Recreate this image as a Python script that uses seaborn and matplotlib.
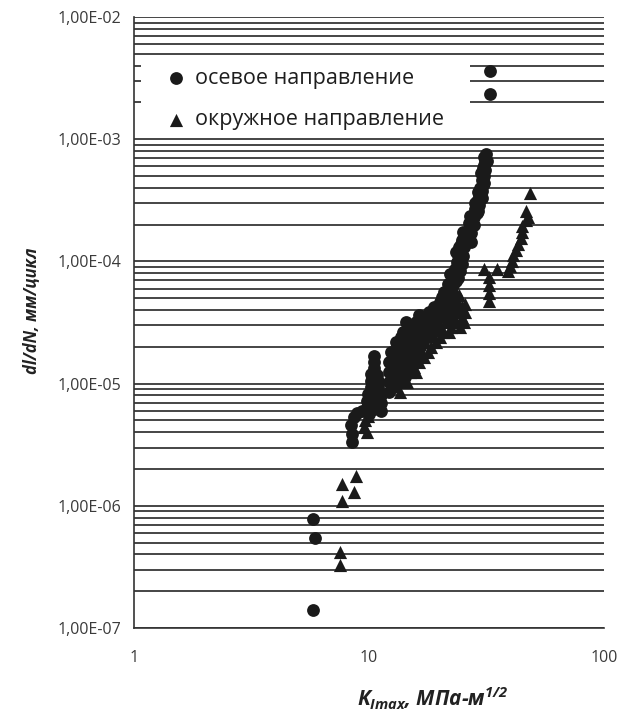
import matplotlib
matplotlib.use("Agg")
import matplotlib.pyplot as plt
import seaborn as sns
import numpy as np
import pandas as pd
from matplotlib.patches import Rectangle
from matplotlib.ticker import LogLocator, NullFormatter

# ---------------- data ----------------
axial_label = "осевое направление"
circ_label = "окружное направление"

# axial direction (circles): K_Imax [MPa*m^0.5], dl/dN [mm/cycle]
axial_k = [
    5.8, 5.9, 5.8,
    8.5, 8.5, 8.4, 8.6, 8.9, 9.3,
    # narrow column near K = 10
    10.0, 9.8, 10.5, 11.2, 9.8, 10.5, 11.2, 9.9, 10.6, 11.2,
    10.2, 10.9, 10.2, 10.9, 10.2, 10.8, 10.5, 10.5, 10.5,
    # merged lower mass
    12.2, 12.2, 13.5, 12.2, 13.5, 12.2, 13.5, 14.9,
    12.4, 13.7, 15.1, 13.0, 14.3, 15.8, 14.0, 15.4, 17.0, 18.7,
    14.4, 15.9, 17.5, 19.3, 16.3, 18.0, 19.8, 20.0, 22.0,
    12.8, 12.8, 14.2, 12.8, 14.2, 12.8, 14.2, 15.7,
    13.4, 14.9, 16.5, 13.7, 15.1, 16.6, 18.2,
    15.2, 16.7, 18.4, 17.1, 18.9, 20.8, 19.0, 21.0, 20.4, 22.2, 23.4,
    # main band
    20.9, 22.5, 21.6, 22.8,
    22.9, 24.0, 23.2, 24.4,
    23.8, 24.9, 24.0, 25.2, 24.2, 25.3,
    25.0, 26.2, 27.3, 25.2, 26.3, 27.3,
    26.6, 27.9, 26.8, 28.0,
    28.2, 29.2, 28.4, 29.4,
    29.5, 30.2, 29.8, 30.4,
    30.3, 31.0, 30.8, 30.5, 31.3,
    31.3, 31.8, 31.6,
    22.3, 23.5, 22.2, 23.6, 24.6, 23.4, 24.6, 25.7, 27.0, 27.4, 28.8,
    28.9, 29.1, 30.6, 29.9, 31.0, 30.8,
    # two isolated high points
    32.8, 32.6]
axial_rate = [
    1.4e-7, 5.5e-7, 7.8e-7,
    3.3e-6, 3.9e-6, 4.6e-6, 5.3e-6, 5.7e-6, 6.0e-6,
    5.6e-6, 6.3e-6, 6.2e-6, 6.0e-6, 7.2e-6, 7.2e-6, 7.0e-6, 8.2e-6, 8.2e-6, 8.0e-6,
    9.3e-6, 9.3e-6, 1.05e-5, 1.05e-5, 1.2e-5, 1.18e-5, 1.33e-5, 1.5e-5, 1.68e-5,
    8.5e-6, 1.03e-5, 1.03e-5, 1.24e-5, 1.24e-5, 1.5e-5, 1.5e-5, 1.5e-5,
    1.82e-5, 1.82e-5, 1.82e-5, 2.2e-5, 2.2e-5, 2.2e-5, 2.65e-5, 2.65e-5, 2.65e-5, 2.65e-5,
    3.2e-5, 3.2e-5, 3.2e-5, 3.2e-5, 3.66e-5, 3.87e-5, 3.87e-5, 4.69e-5, 4.69e-5,
    9.35e-6, 1.13e-5, 1.13e-5, 1.37e-5, 1.37e-5, 1.65e-5, 1.65e-5, 1.65e-5,
    2.0e-5, 2.0e-5, 2.0e-5, 2.42e-5, 2.42e-5, 2.42e-5, 2.42e-5,
    2.92e-5, 2.92e-5, 2.92e-5, 3.53e-5, 3.53e-5, 3.53e-5, 4.26e-5, 4.26e-5, 5.15e-5, 5.15e-5, 5.15e-5,
    5.66e-5, 5.6e-5, 6.5e-5, 6.4e-5,
    7.5e-5, 7.3e-5, 8.6e-5, 8.4e-5,
    9.8e-5, 9.6e-5, 1.12e-4, 1.1e-4, 1.3e-4, 1.3e-4,
    1.5e-4, 1.5e-4, 1.45e-4, 1.75e-4, 1.75e-4, 1.7e-4,
    2.05e-4, 2.0e-4, 2.35e-4, 2.3e-4,
    2.7e-4, 2.6e-4, 3.0e-4, 2.9e-4,
    3.5e-4, 3.3e-4, 4.0e-4, 3.8e-4,
    4.6e-4, 4.4e-4, 5.0e-4, 5.8e-4, 5.6e-4,
    6.8e-4, 6.6e-4, 7.6e-4,
    6.0e-5, 6.9e-5, 7.9e-5, 9.0e-5, 1.05e-4, 1.2e-4, 1.4e-4, 1.62e-4, 1.87e-4, 2.15e-4, 2.5e-4,
    3.15e-4, 3.7e-4, 4.2e-4, 5.3e-4, 6.2e-4, 7.1e-4,
    3.6e-3, 2.35e-3]

# circumferential direction (triangles)
circ_k = [
    7.5, 7.5,
    7.7, 7.7, 8.6, 8.8,
    9.5, 9.8, 9.6, 9.9,
    13.5, 14.5, 14.9, 15.8, 16.4, 16.6, 17.9, 17.4, 19.3,
    20.6, 22.0, 21.3, 23.4, 25.4, 21.8, 23.9, 25.6, 24.0, 25.6, 24.1,
    15.6, 17.2, 18.3, 20.0, 20.2, 22.3, 24.3, 22.8, 24.8, 23.0, 25.0,
    31.0, 35.2, 32.3, 32.3, 32.3, 32.3,
    38.9, 40.0, 40.6, 41.2, 42.2, 42.9, 44.2, 44.8, 45.0, 46.4, 47.4, 46.8, 48.3]
circ_rate = [
    4.2e-7, 3.3e-7,
    1.1e-6, 1.5e-6, 1.3e-6, 1.75e-6,
    4.4e-6, 4.0e-6, 5.0e-6, 5.4e-6,
    8.5e-6, 1.03e-5, 1.24e-5, 1.24e-5, 1.5e-5, 1.82e-5, 1.82e-5, 2.2e-5, 2.2e-5,
    2.65e-5, 2.65e-5, 3.2e-5, 3.2e-5, 3.2e-5, 3.87e-5, 3.87e-5, 3.87e-5, 4.69e-5, 4.5e-5, 5.35e-5,
    1.37e-5, 1.65e-5, 2.0e-5, 2.42e-5, 2.92e-5, 2.92e-5, 2.92e-5, 3.53e-5, 3.53e-5, 4.26e-5, 4.26e-5,
    8.6e-5, 8.6e-5, 7.4e-5, 6.4e-5, 5.5e-5, 4.7e-5,
    8.3e-5, 9.2e-5, 1.0e-4, 1.12e-4, 1.25e-4, 1.38e-4, 1.55e-4, 1.75e-4, 1.95e-4, 2.2e-4, 2.3e-4, 2.6e-4, 3.6e-4]

y_ticks = [1e-7, 1e-6, 1e-5, 1e-4, 1e-3, 1e-2]
y_tick_labels = ["1,00E-07", "1,00E-06", "1,00E-05", "1,00E-04", "1,00E-03", "1,00E-02"]
x_ticks = [1, 10, 100]
x_tick_labels = ["1", "10", "100"]

# ---------------- style ----------------
sns.set_theme(style="white")
plt.rcParams["font.family"] = ["Open Sans", "DejaVu Sans"]
plt.rcParams["mathtext.fontset"] = "custom"
plt.rcParams["mathtext.rm"] = "Open Sans:bold:italic"
plt.rcParams["mathtext.it"] = "Open Sans:bold:italic"
plt.rcParams["mathtext.bf"] = "Open Sans:bold:italic"

ink = "#1a1a1a"
fig = plt.figure(figsize=(6.29, 7.17), dpi=100)
ax = fig.add_axes([0.2130, 0.1241, 0.7472, 0.8522])

df_a = pd.DataFrame({"K": axial_k, "rate": axial_rate})
df_c = pd.DataFrame({"K": circ_k, "rate": circ_rate})

sns.scatterplot(data=df_a, x="K", y="rate", marker="o", s=85, color=ink,
                linewidth=0, ax=ax, zorder=3, label=axial_label, legend=False)
sns.scatterplot(data=df_c, x="K", y="rate", marker="^", s=90, color=ink,
                linewidth=0, ax=ax, zorder=3, label=circ_label, legend=False)

ax.set_xscale("log")
ax.set_yscale("log")
ax.set_xlim(1, 100)
ax.set_ylim(1e-7, 1e-2)

ax.set_yticks(y_ticks)
ax.set_yticklabels(y_tick_labels)
ax.set_xticks(x_ticks)
ax.set_xticklabels(x_tick_labels)
ax.yaxis.set_minor_locator(LogLocator(base=10, subs=range(2, 10), numticks=20))
ax.xaxis.set_minor_locator(LogLocator(base=10, subs=range(2, 10), numticks=20))
ax.yaxis.set_minor_formatter(NullFormatter())
ax.xaxis.set_minor_formatter(NullFormatter())

ax.set_axisbelow(True)
ax.yaxis.grid(True, which="both", color="#262626", linewidth=1.2)
ax.xaxis.grid(False)

for side in ["top", "right"]:
    ax.spines[side].set_visible(False)
for side in ["left", "bottom"]:
    ax.spines[side].set_visible(True)
    ax.spines[side].set_color("#333333")
    ax.spines[side].set_linewidth(1.2)

ax.tick_params(axis="both", which="both", direction="in", length=6, width=1,
               color="#333333", labelcolor="#3a3a3a")
ax.tick_params(axis="y", which="major", labelsize=11.5, pad=9)
ax.tick_params(axis="x", which="major", labelsize=11.5, pad=16)

# white box behind legend (legend masks grid lines)
ax.add_patch(Rectangle((0.016, 0.807), 0.699, 0.128, transform=ax.transAxes,
                       facecolor="white", edgecolor="none", zorder=1))

handles = ax.collections[:2]
leg = ax.legend(handles=handles, labels=[axial_label, circ_label],
                loc="upper left", bbox_to_anchor=(0.072, 0.917), frameon=False,
                fontsize=15.5, handlelength=0.8, handletextpad=0.45,
                labelspacing=0.95, borderpad=0, borderaxespad=0)
for t in leg.get_texts():
    t.set_color("#1e1e1e")

ax.set_ylabel("dl/dN, мм/цикл", fontsize=12, fontweight="bold",
              fontstyle="italic", color="#222222")
ax.yaxis.set_label_coords(-0.2, 0.52)
ax.set_xlabel(r"$K_{Imax}$, МПа-м$^{1/2}$", fontsize=15, fontweight="bold",
              fontstyle="italic", color="#222222")
ax.xaxis.set_label_coords(0.635, -0.094)

fig.savefig("out.png", dpi=100)
